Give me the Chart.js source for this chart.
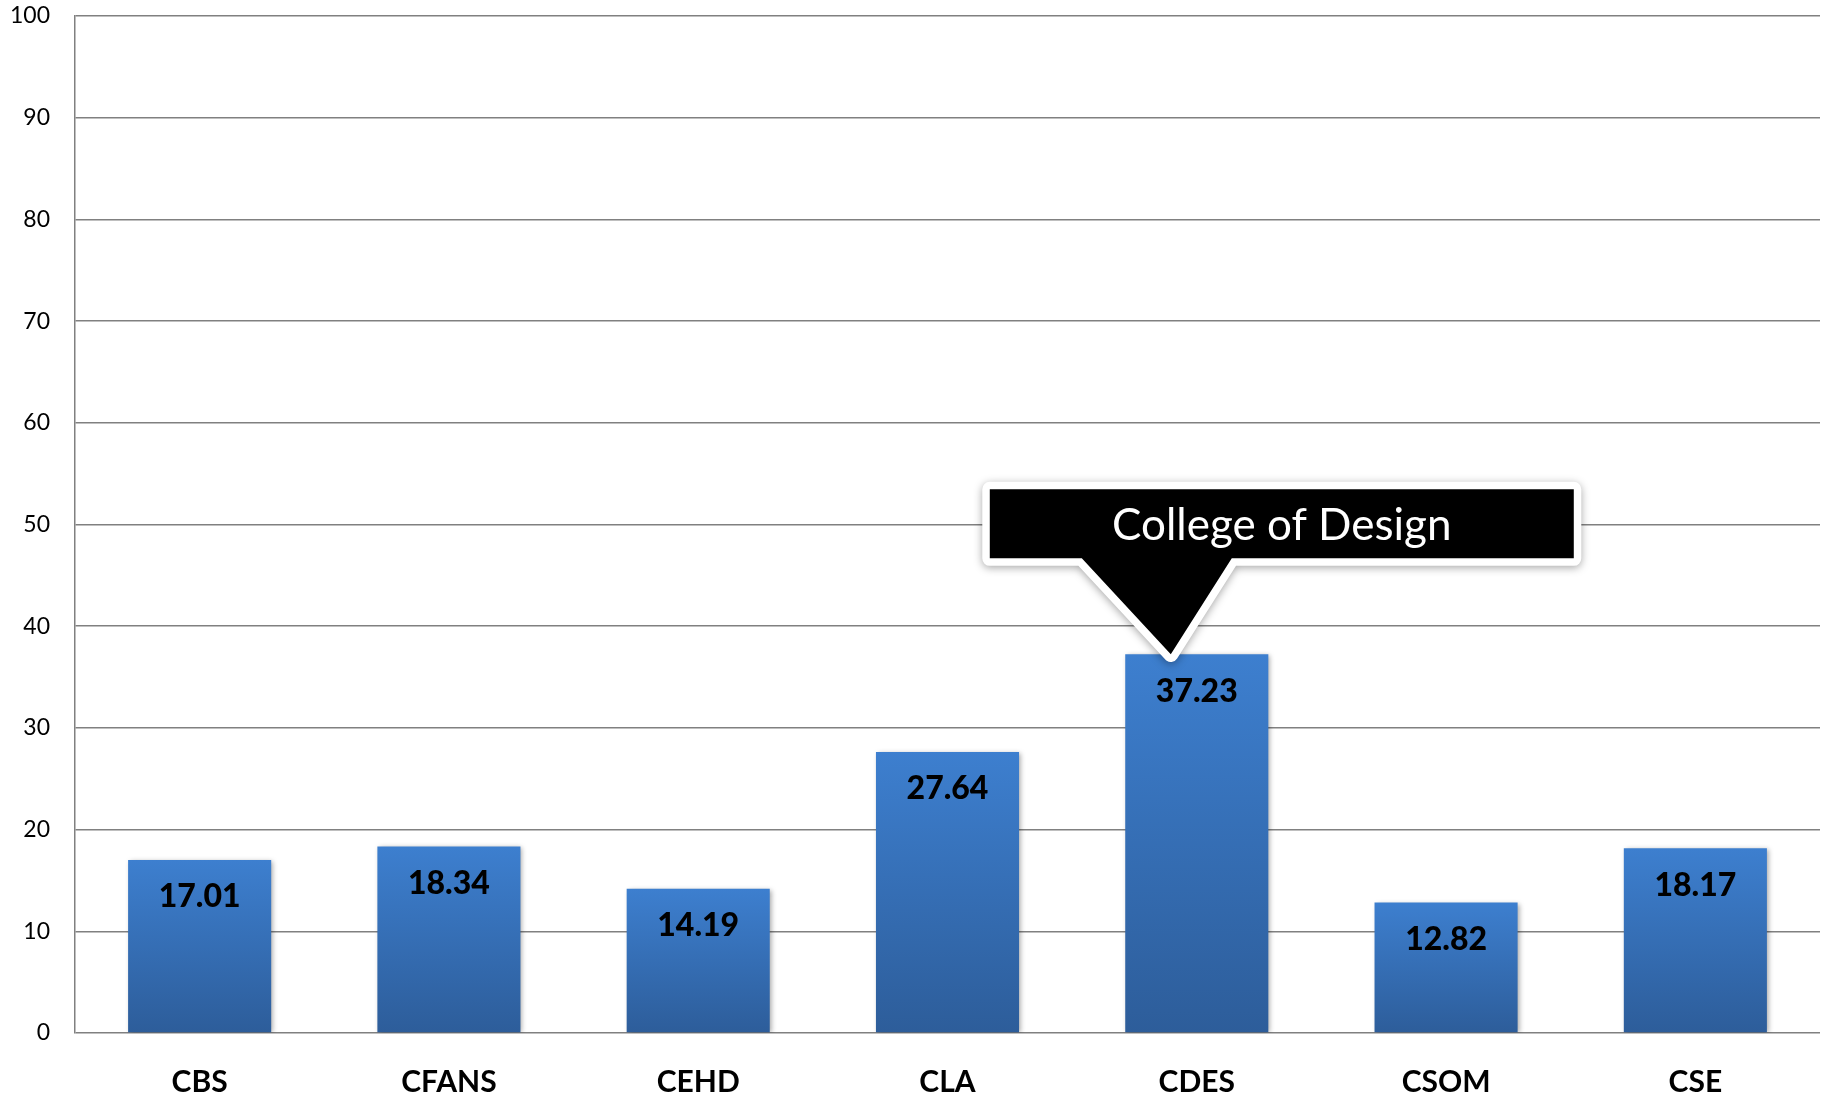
<!DOCTYPE html>
<html lang="en">

<head>
    <meta charset="UTF-8">
    <title>College Bar Chart</title>
    <script src="https://cdn.jsdelivr.net/npm/chart.js"></script>
    <style>
        html, body { margin: 0; padding: 0; background: #fff; }
        #wrap { width: 1839px; height: 1101px; }
    </style>
</head>

<body>
    <div id="wrap"><canvas id="collegeChart"></canvas></div>

    <script>
        const colleges = ['CBS', 'CFANS', 'CEHD', 'CLA', 'CDES', 'CSOM', 'CSE'];
        const values = [17.01, 18.34, 14.19, 27.64, 37.23, 12.82, 18.17];
        const yTicks = [0, 10, 20, 30, 40, 50, 60, 70, 80, 90, 100];
        const calloutIndex = 4;
        const calloutText = 'College of Design';

        const FONT = 'Lato, "Open Sans", sans-serif';

        // vertical gradient per bar, light at the top, darker at the base
        function barFill(context) {
            const chart = context.chart;
            const y = chart.scales.y;
            if (context.type !== 'data' || !y) return '#3a78c4';
            const top = y.getPixelForValue(context.parsed.y);
            const base = y.getPixelForValue(0);
            if (!isFinite(top) || !isFinite(base) || top === base) return '#3a78c4';
            const g = chart.ctx.createLinearGradient(0, top, 0, base);
            g.addColorStop(0, '#3d7fcf');
            g.addColorStop(1, '#2d5d9a');
            return g;
        }

        // soft shadow behind the bars
        const barShadow = {
            id: 'barShadow',
            beforeDatasetsDraw(chart) {
                const ctx = chart.ctx;
                ctx.save();
                ctx.shadowColor = 'rgba(0,0,0,0.35)';
                ctx.shadowBlur = 5;
                ctx.shadowOffsetX = 2;
                ctx.shadowOffsetY = 1;
            },
            afterDatasetsDraw(chart) {
                chart.ctx.restore();
            }
        };

        // value printed inside the top of each bar
        const valueLabels = {
            id: 'valueLabels',
            afterDatasetsDraw(chart) {
                const ctx = chart.ctx;
                const meta = chart.getDatasetMeta(0);
                ctx.save();
                ctx.font = '900 32px ' + FONT;
                ctx.fillStyle = '#000';
                ctx.textAlign = 'center';
                ctx.textBaseline = 'middle';
                meta.data.forEach((bar, i) => {
                    ctx.fillText(values[i].toFixed(2), bar.x, bar.y + 37);
                });
                ctx.restore();
            }
        };

        // black speech-bubble callout pointing at one bar
        const callout = {
            id: 'callout',
            afterDraw(chart) {
                const ctx = chart.ctx;
                const bar = chart.getDatasetMeta(0).data[calloutIndex];
                const tipX = bar.x - 26;
                const tipY = bar.y;
                const left = tipX - 181, right = tipX + 403;
                const top = tipY - 165, bottom = tipY - 96;

                ctx.save();
                ctx.beginPath();
                ctx.moveTo(left, top);
                ctx.lineTo(right, top);
                ctx.lineTo(right, bottom);
                ctx.lineTo(tipX + 61, bottom);
                ctx.lineTo(tipX, tipY);
                ctx.lineTo(tipX - 89, bottom);
                ctx.lineTo(left, bottom);
                ctx.closePath();

                ctx.shadowColor = 'rgba(0,0,0,0.35)';
                ctx.shadowBlur = 8;
                ctx.shadowOffsetX = 0;
                ctx.shadowOffsetY = 2;
                ctx.lineJoin = 'round';
                ctx.lineWidth = 15;
                ctx.strokeStyle = '#fff';
                ctx.stroke();

                ctx.shadowColor = 'transparent';
                ctx.fillStyle = '#000';
                ctx.fill();

                ctx.font = '44px ' + FONT;
                ctx.fillStyle = '#fff';
                ctx.textAlign = 'center';
                ctx.textBaseline = 'middle';
                ctx.fillText(calloutText, (left + right) / 2, (top + bottom) / 2 + 2);
                ctx.restore();
            }
        };

        const ctx = document.getElementById('collegeChart').getContext('2d');
        const collegeChart = new Chart(ctx, {
            type: 'bar',
            data: {
                labels: colleges,
                datasets: [{
                    data: values,
                    backgroundColor: barFill,
                    borderWidth: 0,
                    barPercentage: 0.574,
                    categoryPercentage: 1
                }]
            },
            options: {
                responsive: true,
                maintainAspectRatio: false,
                animation: false,
                layout: { padding: { top: 16, right: 19, left: 0, bottom: 0 } },
                plugins: {
                    legend: { display: false },
                    tooltip: { enabled: false }
                },
                scales: {
                    x: {
                        grid: { display: false, drawTicks: false },
                        border: { display: false },
                        ticks: {
                            color: '#000',
                            font: { family: FONT, size: 30, weight: 'bold' },
                            padding: 31
                        },
                        afterFit(scale) {
                            scale.height = 68;
                            scale.paddingLeft = 0;
                            scale.paddingRight = 0;
                        }
                    },
                    y: {
                        min: 0,
                        max: 100,
                        afterBuildTicks(scale) {
                            scale.ticks = yTicks.map(v => ({ value: v }));
                        },
                        grid: { color: '#808080', lineWidth: 1.5, drawTicks: false },
                        border: { display: true, color: '#808080', width: 1.5 },
                        ticks: {
                            color: '#000',
                            font: { family: FONT, size: 23 },
                            padding: 25
                        },
                        afterFit(scale) {
                            scale.width = 75;
                            scale.paddingTop = 0;
                            scale.paddingBottom = 0;
                        }
                    }
                }
            },
            plugins: [barShadow, valueLabels, callout]
        });
    </script>
</body>

</html>
